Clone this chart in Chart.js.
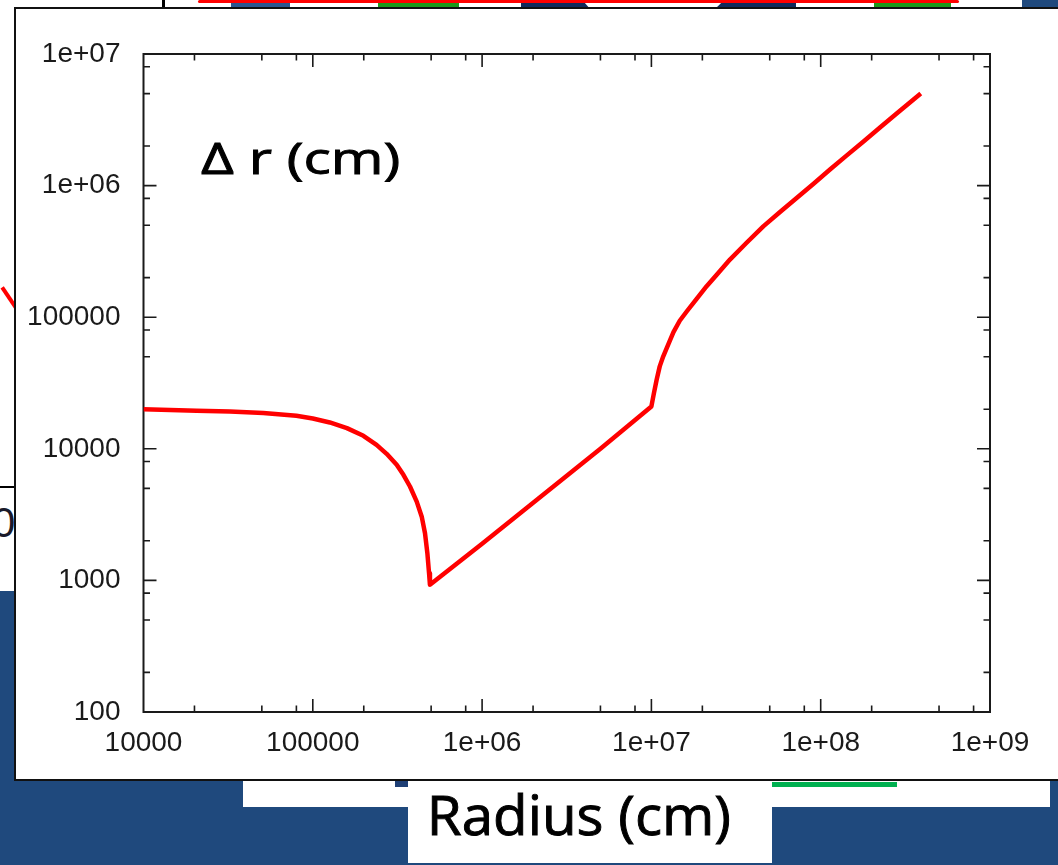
<!DOCTYPE html>
<html><head><meta charset="utf-8">
<script src="https://cdn.jsdelivr.net/npm/chart.js@4"></script>
<style>
html,body{margin:0;padding:0}
body{width:1058px;height:865px;background:#1f497d;position:relative;overflow:hidden}
.a{position:absolute}
</style></head><body>
<!-- slide remnants behind the chart panel -->
<div class="a" style="left:0;top:0;width:1022px;height:591px;background:#fff"></div>
<div class="a" style="left:1022px;top:0;width:40px;height:10px;background:#1f497d;border-top-left-radius:5px"></div>
<div class="a" style="left:231px;top:2px;width:59px;height:8px;background:#2a5690"></div>
<div class="a" style="left:378px;top:2px;width:81px;height:8px;background:#1a9a1a"></div>
<div class="a" style="left:521px;top:2px;width:70px;height:8px;background:#0f2a5c;clip-path:polygon(0 0,90% 0,100% 100%,0 100%)"></div>
<div class="a" style="left:714px;top:2px;width:82px;height:8px;background:#0f2a5c;clip-path:polygon(10% 0,100% 0,100% 100%,0 100%)"></div>
<div class="a" style="left:874px;top:2px;width:77px;height:8px;background:#1a9a1a"></div>
<div class="a" style="left:162px;top:0;width:3px;height:10px;background:#000"></div>
<div class="a" style="left:198px;top:0;width:761px;height:3px;background:#f00;border-radius:2px"></div>
<div class="a" style="left:-4px;top:297px;width:28px;height:4px;background:#f00;transform:rotate(56deg);transform-origin:50% 50%"></div>
<div class="a" style="left:0;top:486px;width:16px;height:2px;background:#000"></div>
<div class="a" style="left:-8px;top:502px;font:42px 'Liberation Sans',Arial,sans-serif;color:#1a1a2a;line-height:42px">0</div>
<div class="a" style="left:243px;top:780px;width:807px;height:27px;background:#fff"></div>
<div class="a" style="left:395px;top:780px;width:14px;height:7px;background:#1f3f75"></div>
<div class="a" style="left:772px;top:782px;width:125px;height:5px;background:#00b050"></div>
<div class="a" style="left:408px;top:780px;width:364px;height:83px;background:#fff"></div>
<!-- chart panel -->
<div class="a" style="left:14px;top:7px;width:1100px;height:770px;background:#fff;border:2px solid #111"></div>
<canvas id="c" width="1058" height="865" class="a" style="left:0;top:0"></canvas>
<script>
// ---- data ----
const radiusCm = [1.0e4, 2.06e4, 3.24e4, 5.1e4, 8.0e4, 1.0e5, 1.26e5, 1.59e5, 1.99e5, 2.38e5, 2.73e5, 3.13e5,
                  3.43e5, 3.75e5, 4.11e5, 4.40e5, 4.60e5, 4.75e5, 4.86e5, 4.92e5,
                  1.0e6, 5.0e6,
                  1.0e7, 1.035e7, 1.074e7, 1.12e7, 1.175e7, 1.26e7, 1.35e7, 1.47e7, 1.62e7, 1.85e7, 2.12e7, 2.49e7,
                  2.91e7, 3.65e7, 4.58e7, 5.75e7, 7.21e7, 9.04e7, 1.13e8, 1.42e8, 1.79e8, 2.24e8, 2.81e8, 3.90e8];
const deltaRCm = [20000, 19500, 19200, 18700, 17800, 17000, 15850, 14350, 12550, 10720, 9160, 7560,
                  6340, 5170, 3970, 3050, 2280, 1610, 1135, 925,
                  1900, 10000,
                  21000, 26500, 33500, 42300, 50400, 62500, 77000, 94000, 111000, 138000, 172000, 218000,
                  274000, 368000, 490000, 630000, 805000, 1030000, 1320000, 1690000, 2160000, 2760000, 3530000, 5010000];
const xTickValues = [1e4, 1e5, 1e6, 1e7, 1e8, 1e9];
const yTickValues = [1e2, 1e3, 1e4, 1e5, 1e6, 1e7];
const minorMultipliers = [2, 5, 8];
const panelLabel = 'Δ r (cm)';
const axisTitle = 'Radius (cm)';

function withMinor(majors) {
  const out = [];
  majors.forEach((m, i) => {
    out.push(m);
    if (i < majors.length - 1) minorMultipliers.forEach(k => out.push(m * k));
  });
  return out;
}
function isMajor(v) { const e = Math.round(Math.log10(v)); return Math.abs(v - Math.pow(10, e)) < 1e-6 * v; }
function fmt(v) {
  if (!isMajor(v)) return '';
  const e = Math.round(Math.log10(v));
  return e <= 5 ? String(Math.pow(10, e)) : '1e+' + String(e).padStart(2, '0');
}

const framePlugin = {
  id: 'frame',
  beforeDatasetsDraw(chart) {
    const {ctx, chartArea: a, scales} = chart;
    ctx.save();
    ctx.strokeStyle = '#1a1a1a';
    ctx.lineWidth = 1.6;
    const maj = 13, min = 6.5;
    scales.x.ticks.forEach(t => {
      const px = scales.x.getPixelForValue(t.value);
      if (px <= a.left + 1 || px >= a.right - 1) return;
      const L = isMajor(t.value) ? maj : min;
      ctx.beginPath();
      ctx.moveTo(px, a.bottom); ctx.lineTo(px, a.bottom - L);
      ctx.moveTo(px, a.top); ctx.lineTo(px, a.top + L);
      ctx.stroke();
    });
    scales.y.ticks.forEach(t => {
      const py = scales.y.getPixelForValue(t.value);
      if (py <= a.top + 1 || py >= a.bottom - 1) return;
      const L = isMajor(t.value) ? maj : min;
      ctx.beginPath();
      ctx.moveTo(a.left, py); ctx.lineTo(a.left + L, py);
      ctx.moveTo(a.right, py); ctx.lineTo(a.right - L, py);
      ctx.stroke();
    });
    ctx.lineWidth = 2;
    ctx.strokeRect(a.left, a.top, a.right - a.left, a.bottom - a.top);
    ctx.restore();
  },
  afterDraw(chart) {
    const ctx = chart.ctx;
    function fitText(t, font, x1, x2, base) {
      ctx.save();
      ctx.font = font;
      ctx.fillStyle = '#000';
      ctx.strokeStyle = '#000';
      ctx.lineWidth = 0.9;
      ctx.textAlign = 'left';
      ctx.textBaseline = 'alphabetic';
      const m = ctx.measureText(t);
      const w = m.actualBoundingBoxLeft + m.actualBoundingBoxRight;
      ctx.translate(x1, base);
      ctx.scale((x2 - x1) / w, 1);
      ctx.fillText(t, m.actualBoundingBoxLeft, 0);
      ctx.strokeText(t, m.actualBoundingBoxLeft, 0);
      ctx.restore();
    }
    fitText(panelLabel, '43px "Open Sans"', 201, 398, 173.5);
    fitText(axisTitle, '54px "Open Sans"', 432, 729, 835);
  }
};

new Chart(document.getElementById('c'), {
  type: 'line',
  data: {
    datasets: [{
      data: radiusCm.map((r, i) => ({x: r, y: deltaRCm[i]})),
      borderColor: '#ff0000',
      borderWidth: 4.5,
      borderJoinStyle: 'round',
      pointRadius: 0,
      tension: 0,
      fill: false
    }]
  },
  options: {
    responsive: false,
    animation: false,
    devicePixelRatio: 1,
    layout: {padding: {left: 0, top: 54, right: 68, bottom: 0}},
    plugins: {legend: {display: false}, tooltip: {enabled: false}},
    scales: {
      x: {
        type: 'logarithmic', min: 1e4, max: 1e9,
        afterBuildTicks: s => { s.ticks = withMinor(xTickValues).map(v => ({value: v})); },
        afterFit: s => { s.height = 153; },
        grid: {display: false, drawTicks: false},
        border: {display: false},
        ticks: {callback: v => fmt(v), autoSkip: false, maxRotation: 0, minRotation: 0, padding: 14,
                color: '#1a1a1a', font: {family: '"Liberation Sans", Arial, sans-serif', size: 28}}
      },
      y: {
        type: 'logarithmic', min: 1e2, max: 1e7,
        afterBuildTicks: s => { s.ticks = withMinor(yTickValues).map(v => ({value: v})); },
        afterFit: s => { s.width = 143.5; },
        grid: {display: false, drawTicks: false},
        border: {display: false},
        ticks: {callback: v => fmt(v), autoSkip: false, padding: 23,
                color: '#1a1a1a', font: {family: '"Liberation Sans", Arial, sans-serif', size: 28}}
      }
    }
  },
  plugins: [framePlugin]
});
</script>
</body></html>
